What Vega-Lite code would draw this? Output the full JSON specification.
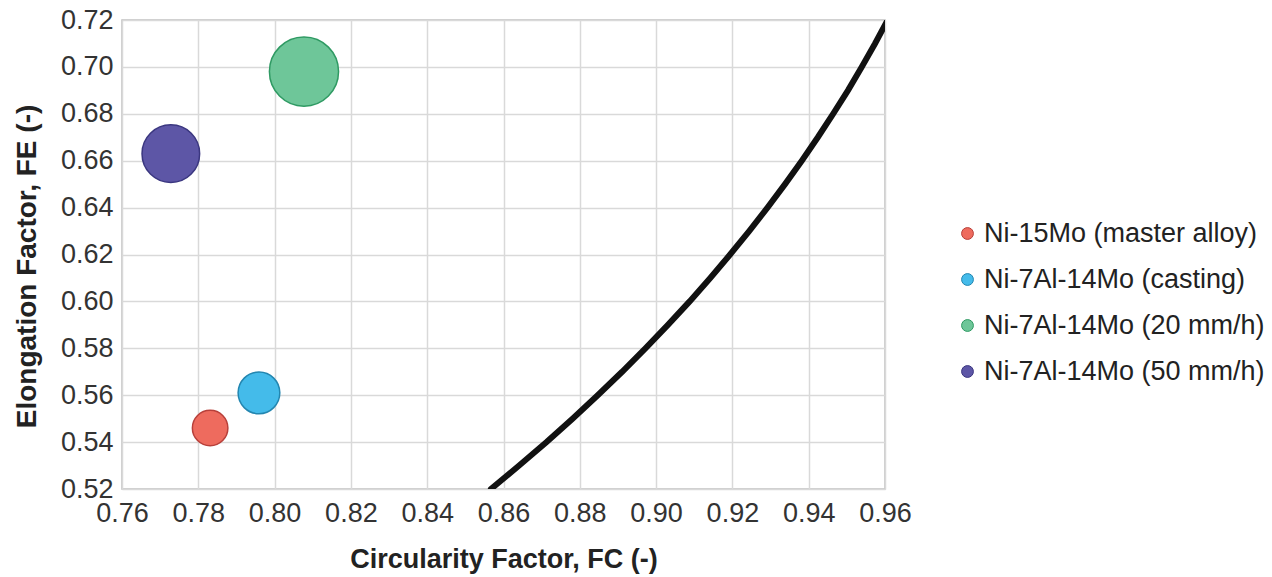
{
  "$schema": "https://vega.github.io/schema/vega-lite/v6.json",
  "width": 763,
  "height": 469,
  "autosize": "none",
  "padding": {"left": 122, "top": 20, "right": 387, "bottom": 88},
  "background": "white",
  "config": {
    "font": "Liberation Sans",
    "view": {"stroke": "#BFBFBF", "strokeWidth": 1.5},
    "axis": {
      "grid": true,
      "gridColor": "#D9D9D9",
      "gridWidth": 1.5,
      "domain": false,
      "ticks": false,
      "labelFontSize": 27,
      "labelColor": "#333333",
      "labelFont": "Liberation Sans",
      "labelFlush": false,
      "labelOverlap": false,
      "titleFont": "Liberation Sans",
      "titleFontSize": 27,
      "titleFontWeight": "bold",
      "titleColor": "#222222"
    }
  },
  "layer": [
    {
      "data": {
        "values": [
          {"fc": 0.8567, "fe": 0.52},
          {"fc": 0.8641, "fe": 0.53},
          {"fc": 0.8713, "fe": 0.54},
          {"fc": 0.8781, "fe": 0.55},
          {"fc": 0.8847, "fe": 0.56},
          {"fc": 0.8911, "fe": 0.57},
          {"fc": 0.8972, "fe": 0.58},
          {"fc": 0.9031, "fe": 0.59},
          {"fc": 0.9088, "fe": 0.60},
          {"fc": 0.9142, "fe": 0.61},
          {"fc": 0.9194, "fe": 0.62},
          {"fc": 0.9244, "fe": 0.63},
          {"fc": 0.9292, "fe": 0.64},
          {"fc": 0.9338, "fe": 0.65},
          {"fc": 0.9382, "fe": 0.66},
          {"fc": 0.9424, "fe": 0.67},
          {"fc": 0.9464, "fe": 0.68},
          {"fc": 0.9503, "fe": 0.69},
          {"fc": 0.9539, "fe": 0.70},
          {"fc": 0.9574, "fe": 0.71},
          {"fc": 0.9607, "fe": 0.72}
        ]
      },
      "mark": {"type": "line", "color": "#111111", "strokeWidth": 6, "strokeCap": "round", "clip": true},
      "encoding": {
        "x": {
          "field": "fc", "type": "quantitative",
          "scale": {"domain": [0.76, 0.96], "nice": false, "zero": false},
          "axis": {
            "values": [0.76, 0.78, 0.8, 0.82, 0.84, 0.86, 0.88, 0.9, 0.92, 0.94, 0.96],
            "format": ".2f",
            "labelPadding": 11,
            "title": "Circularity Factor, FC (-)",
            "titlePadding": 20
          }
        },
        "y": {
          "field": "fe", "type": "quantitative",
          "scale": {"domain": [0.52, 0.72], "nice": false, "zero": false},
          "axis": {
            "values": [0.52, 0.54, 0.56, 0.58, 0.6, 0.62, 0.64, 0.66, 0.68, 0.7, 0.72],
            "format": ".2f",
            "labelPadding": 9,
            "title": "Elongation Factor, FE (-)",
            "titleFontSize": 28,
            "titleY": 246,
            "titlePadding": 19
          }
        },
        "order": {"field": "fe", "type": "quantitative"}
      }
    },
    {
      "data": {
        "values": [
          {"series": "Ni-15Mo (master alloy)", "fc": 0.7831, "fe": 0.546, "bubble": 1.26},
          {"series": "Ni-7Al-14Mo (casting)", "fc": 0.7959, "fe": 0.561, "bubble": 1.74},
          {"series": "Ni-7Al-14Mo (20 mm/h)", "fc": 0.8077, "fe": 0.698, "bubble": 4.78},
          {"series": "Ni-7Al-14Mo (50 mm/h)", "fc": 0.7728, "fe": 0.663, "bubble": 3.32}
        ]
      },
      "mark": {"type": "circle", "opacity": 1, "strokeWidth": 1.5},
      "encoding": {
        "x": {"field": "fc", "type": "quantitative"},
        "y": {"field": "fe", "type": "quantitative"},
        "size": {
          "field": "bubble", "type": "quantitative",
          "scale": {"type": "linear", "domain": [0, 5], "range": [0, 5000], "zero": true},
          "legend": null
        },
        "fill": {
          "field": "series", "type": "nominal",
          "scale": {
            "domain": ["Ni-15Mo (master alloy)", "Ni-7Al-14Mo (casting)", "Ni-7Al-14Mo (20 mm/h)", "Ni-7Al-14Mo (50 mm/h)"],
            "range": ["#EE6B5E", "#44BBEA", "#6EC699", "#5D56A6"]
          },
          "legend": {
            "title": null,
            "orient": "none",
            "legendX": 832,
            "legendY": 200,
            "labelFontSize": 27,
            "labelColor": "#222222",
            "labelFont": "Liberation Sans",
            "labelLimit": 0,
            "symbolType": "circle",
            "symbolSize": 140,
            "symbolStrokeWidth": 1,
            "labelOffset": 3,
            "rowPadding": 18
          }
        },
        "stroke": {
          "field": "series", "type": "nominal",
          "scale": {
            "domain": ["Ni-15Mo (master alloy)", "Ni-7Al-14Mo (casting)", "Ni-7Al-14Mo (20 mm/h)", "Ni-7Al-14Mo (50 mm/h)"],
            "range": ["#B8403A", "#2386B0", "#2F9A63", "#3B3780"]
          },
          "legend": null
        }
      }
    }
  ]
}
